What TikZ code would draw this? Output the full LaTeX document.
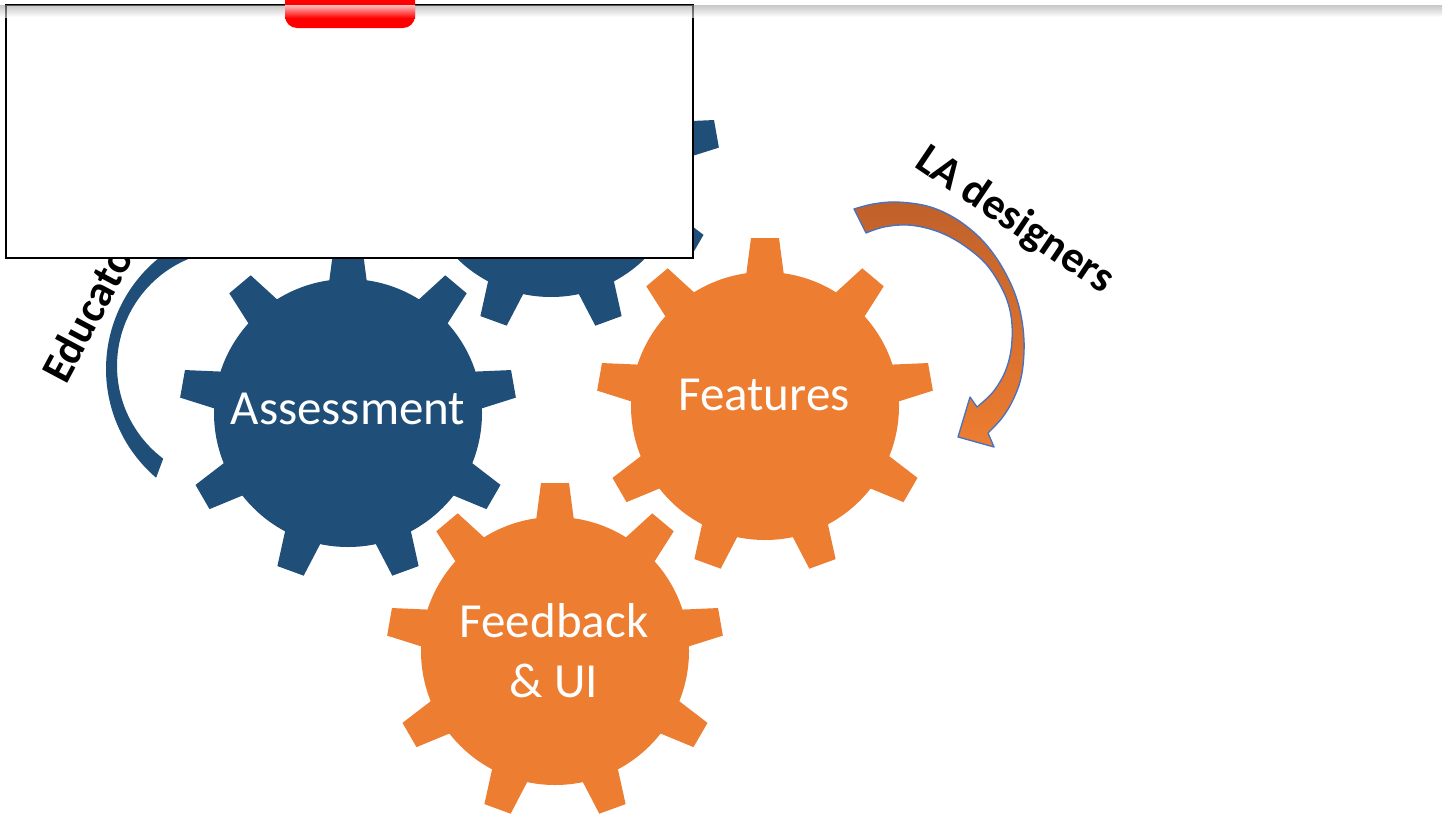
\documentclass[tikz,border=0pt]{standalone}
\usepackage{fontspec}
\setmainfont{Carlito}
\definecolor{gblue}{HTML}{1F4E79}
\definecolor{gorange}{HTML}{ED7D31}
\definecolor{darkorange}{HTML}{C0612A}
\definecolor{outlineblue}{HTML}{4472C4}
\begin{document}
\begin{tikzpicture}[x=1pt,y=-1pt,
  gear/.pic={
    \fill (0,0) circle[radius=134pt];
    \foreach \a in {10,50,...,330} {
      \fill[rotate=\a] (115,-21) -- (168,-14) -- (168,14) -- (115,21) -- cycle;
    }
  },
  geartext/.style={text=white, font=\fontsize{49}{59}\selectfont, inner sep=0pt, anchor=base},
  labeltext/.style={text=black, font=\bfseries\fontsize{44}{53}\selectfont, inner sep=0pt, anchor=base west}]
\useasboundingbox (0,0) rectangle (1450,814);
\fill[white] (0,0) rectangle (1450,814);

% gears
\pic[color=gblue] at (551,163) {gear};
\pic[color=gblue] at (348,413) {gear};
\pic[color=gorange] at (765,406) {gear};
\pic[color=gorange] at (555,651) {gear};

\node[geartext] (assess) at (348,424) {Assessment};
\node[geartext] (feat) at (764,410) {Features};
\node[geartext] (fb1) at (554,637) {Feedback};
\node[geartext] (fb2) at (554,697) {\& UI};

% blue curved arrow (educators)
\fill[gblue] plot[domain=240:130.5, samples=60, variable=\t] ({249+143*cos(\t)},{369+143*sin(\t)})
  -- plot[domain=127:262, samples=60, variable=\t] ({233+116*cos(\t)},{366+116*sin(\t)})
  -- cycle;

% orange curved arrow (LA designers)
\shade[top color=darkorange, bottom color=gorange, draw=outlineblue, line width=1.3pt, line join=round]
  plot[smooth, tension=0.6] coordinates {(854,209) (873,204) (897,202) (927,206) (953,217) (977,235) (995,256) (1009,280) (1018,303) (1023,328) (1024,352) (1021,378) (1013,400) (1002,418) (988,433)}
  -- (994,447) -- (958,437) -- (970,397) -- (977,407)
  -- plot[smooth, tension=0.6] coordinates {(977,407) (993,392) (1005,372) (1011,350) (1012,325) (1008,303) (999,283) (986,264) (969,249) (950,237) (930,229) (907,225) (884,227) (866,233)}
  -- cycle;

\node[labeltext, rotate=62] (educ) at (66,386) {Educators};
\node[labeltext, rotate=-34] (lades) at (913,166) {LA designers};

% overlay box
\fill[white] (0,0) rectangle (1450,5);
\draw[fill=white, line width=2pt] (6,5) rectangle (693,258);
\fill[red, rounded corners=12pt] (285,-20) -- (285,28) -- (415,28) -- (415,-20) -- cycle;

% top shadow
\shade[top color=black!40, bottom color=white, fill opacity=0.55] (0,5) rectangle (1442,17);
\shade[top color=red!25, bottom color=red] (285,5) rectangle (415,18);
\end{tikzpicture}
\end{document}
